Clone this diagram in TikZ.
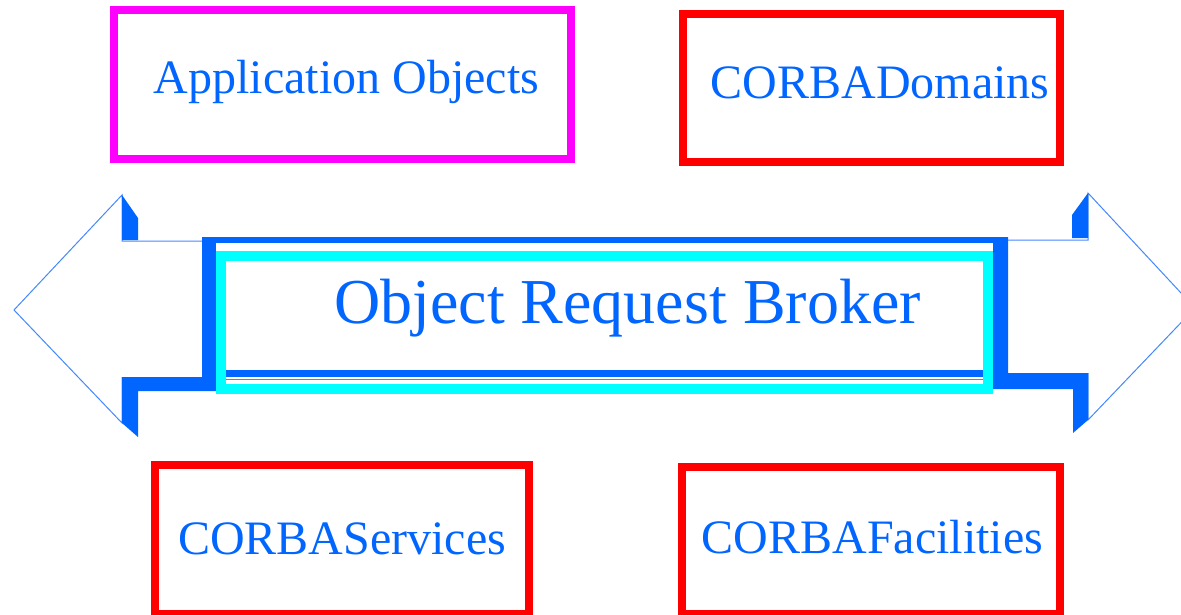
\documentclass[tikz,border=0pt]{standalone}
\usepackage{fontspec}
\setmainfont{Liberation Serif}
\definecolor{tblue}{HTML}{0066FF}
\definecolor{ablue}{HTML}{0066FF}
\definecolor{lblue}{HTML}{4488FF}
\definecolor{cyanc}{HTML}{00FFFF}
\definecolor{magc}{HTML}{FF00FF}
\definecolor{redc}{HTML}{FF0000}
\tikzset{
  framebox/.style={draw=#1, line width=8pt, rectangle, inner sep=0pt},
  lbl/.style={text=tblue, inner sep=0pt, anchor=base, font=\fontsize{48}{58}\selectfont},
  biglbl/.style={text=tblue, inner sep=0pt, anchor=base, font=\fontsize{64}{76}\selectfont},
  thinline/.style={draw=lblue, line width=1pt, line join=miter},
  solidblue/.style={fill=ablue, draw=none}
}
\begin{document}
\begin{tikzpicture}[x=1pt,y=-1pt]
\useasboundingbox (0,0) rectangle (1181,615);
\clip (0,0) rectangle (1181,615);
\fill[white] (0,0) rectangle (1181,615);

% double arrow outline
\coordinate (ltip) at (14,310);
\coordinate (rtip) at (1195,308);
\draw[thinline] (202,241) -- (122,241) -- (122,195) -- (ltip) -- (122,423) -- (122,377);
\draw[thinline] (1008,240) -- (1088,240) -- (1088,193) -- (rtip) -- (1088,420) -- (1088,373);

% solid blue shading
\fill[solidblue] (122,195) -- (138,218) -- (138,240) -- (122,240) -- cycle;
\fill[solidblue] (1088,193) -- (1072,215) -- (1072,238) -- (1088,238) -- cycle;
\fill[solidblue] (122,377) -- (202,377) -- (202,237) -- (1008,237) -- (1008,373)
  -- (1088,373) -- (1088,420) -- (1073,433) -- (1073,389) -- (216,391)
  -- (138,391) -- (138,437) -- (122,423) -- cycle;
\fill[white] (216,243) -- (993,243) -- (993,370) -- (216,370) -- cycle;
\fill[white] (226,377) rectangle (983,384);
\draw[lblue, line width=1pt] (226,379.5) -- (983,379.5);
\node[draw=cyanc, line width=10pt, rectangle, inner sep=0pt,
      minimum width=767pt, minimum height=133pt] (orb) at (604.5,322) {};
\node[biglbl] (orbtext) at (627.5,323) {Object Request Broker};

% boxes
\node[framebox=magc, minimum width=457pt, minimum height=148.5pt] (appbox) at (342.5,84.75) {};
\node[lbl] (apptext) at (346.5,94) {Application Objects};

\node[framebox=redc, minimum width=377pt, minimum height=148pt] (dombox) at (871.5,88) {};
\node[lbl] (domtext) at (880,99) {CORBADomains};

\node[framebox=redc, minimum width=374pt, minimum height=149pt] (svcbox) at (342,539.5) {};
\node[lbl] (svctext) at (342,554) {CORBAServices};

\node[framebox=redc, minimum width=378pt, minimum height=147pt] (facbox) at (871,540.5) {};
\node[lbl] (factext) at (872.5,553) {CORBAFacilities};
\end{tikzpicture}
\end{document}
